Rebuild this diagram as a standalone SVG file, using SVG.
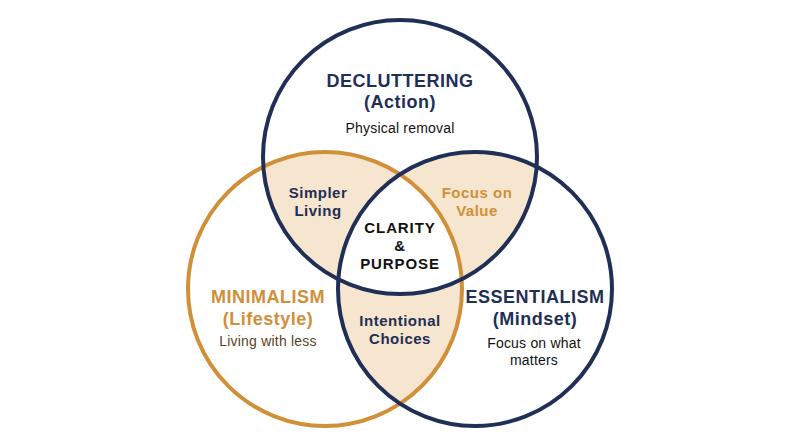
<svg xmlns="http://www.w3.org/2000/svg" width="800" height="447" viewBox="0 0 800 447">
<style>
.b{font-family:"Liberation Sans",Arial,sans-serif;font-weight:700;text-anchor:middle;letter-spacing:0.5px}
.r{font-family:"Liberation Sans",Arial,sans-serif;font-weight:400;text-anchor:middle;letter-spacing:0.2px}
.navy{fill:#1f2f55}
.org{fill:#d18f38}
.blk{fill:#111111}
.ring{fill:none;stroke-width:4}
</style>
<defs>
<clipPath id="cT"><circle cx="400" cy="157" r="137"/></clipPath>
<clipPath id="cL"><circle cx="325" cy="289" r="137"/></clipPath>
<clipPath id="cR"><circle cx="475" cy="289" r="137"/></clipPath>
</defs>
<rect width="800" height="447" fill="#ffffff"/>
<g id="overlaps">
<circle cx="400" cy="157" r="137" fill="#f6e5cf" clip-path="url(#cL)"/>
<circle cx="400" cy="157" r="137" fill="#f6e5cf" clip-path="url(#cR)"/>
<circle cx="325" cy="289" r="137" fill="#f6e5cf" clip-path="url(#cR)"/>
<g clip-path="url(#cL)"><circle cx="400" cy="157" r="137" fill="#ffffff" clip-path="url(#cR)"/></g>
</g>
<g id="minimalism">
<circle class="ring" cx="325" cy="289" r="137" stroke="#d18f38"/>
</g>
<g id="decluttering">
<circle class="ring" cx="400" cy="157" r="137" stroke="#1f2f55"/>
</g>
<g id="essentialism">
<circle class="ring" cx="475" cy="289" r="137" stroke="#1f2f55"/>
</g>
<g id="labels">
<text class="b navy" x="400" y="87" font-size="18">DECLUTTERING</text>
<text class="b navy" x="400" y="108" font-size="18">(Action)</text>
<text class="r blk" x="400" y="133" font-size="14">Physical removal</text>
<text class="b navy" x="318" y="198" font-size="15">Simpler</text>
<text class="b navy" x="318" y="216" font-size="15">Living</text>
<text class="b org" x="477" y="198" font-size="15">Focus on</text>
<text class="b org" x="477" y="216" font-size="15">Value</text>
<text class="b blk" x="400" y="233" font-size="15" style="letter-spacing:0.9px">CLARITY</text>
<text class="b blk" x="400" y="251" font-size="15">&amp;</text>
<text class="b blk" x="400" y="269" font-size="15" style="letter-spacing:0.9px">PURPOSE</text>
<text class="b org" x="268" y="303" font-size="18">MINIMALISM</text>
<text class="b org" x="268" y="325" font-size="18">(Lifestyle)</text>
<text class="r" x="268" y="346" font-size="14" fill="#5a4322">Living with less</text>
<text class="b navy" x="400" y="326" font-size="15">Intentional</text>
<text class="b navy" x="400" y="344" font-size="15">Choices</text>
<text class="b navy" x="535" y="303" font-size="18">ESSENTIALISM</text>
<text class="b navy" x="535" y="325" font-size="18">(Mindset)</text>
<text class="r blk" x="534" y="348" font-size="14">Focus on what</text>
<text class="r blk" x="534" y="365" font-size="14">matters</text>
</g>
</svg>
